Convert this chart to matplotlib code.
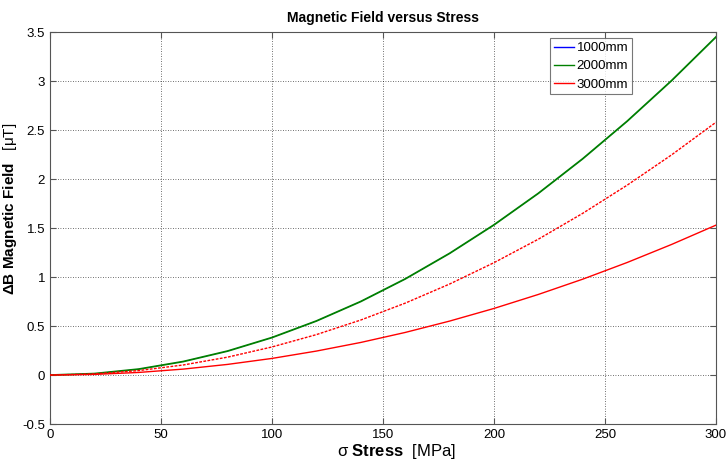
import matplotlib
matplotlib.use("Agg")
import matplotlib.pyplot as plt

plt.rcParams["font.family"] = ["Liberation Sans", "DejaVu Sans"]
plt.rcParams["mathtext.fontset"] = "custom"
plt.rcParams["mathtext.rm"] = "Liberation Sans"
plt.rcParams["mathtext.bf"] = "Liberation Sans:bold"
plt.rcParams["mathtext.it"] = "Liberation Sans:italic"

# stress values (MPa) and field change (uT)
stress = [0, 20, 40, 60, 80, 100, 120, 140, 160, 180, 200, 220, 240, 260, 280, 300]
field_2000 = [0, 0.015, 0.061, 0.138, 0.245, 0.383, 0.552, 0.751, 0.981, 1.242,
              1.533, 1.855, 2.208, 2.591, 3.005, 3.45]
field_1000 = list(field_2000)  # hidden under the green curve
field_3000_dash = [0, 0.012, 0.046, 0.103, 0.183, 0.287, 0.413, 0.562, 0.734, 0.929,
                   1.147, 1.387, 1.651, 1.938, 2.247, 2.58]
field_3000 = [0, 0.007, 0.027, 0.061, 0.109, 0.170, 0.245, 0.333, 0.435, 0.551,
              0.680, 0.823, 0.979, 1.149, 1.333, 1.53]

labels = ["1000mm", "2000mm", "3000mm"]

fig = plt.figure(figsize=(7.28, 4.65), dpi=100, facecolor="white")
ax = fig.add_axes([0.0687, 0.088, 0.9148, 0.843])

ax.plot(stress, field_1000, color="#0000ff", linewidth=0.4, label=labels[0], zorder=2)
ax.plot(stress, field_2000, color="#008000", linewidth=1.3, label=labels[1], zorder=3)
ax.plot(stress, field_3000, color="#ff0000", linewidth=1.0, label=labels[2], zorder=3)
ax.plot(stress, field_3000_dash, color="#ff0000", linewidth=1.0, linestyle=(0, (2, 1)), zorder=3)

ax.set_xlim(0, 300)
ax.set_ylim(-0.5, 3.5)
ax.set_xticks(range(0, 301, 50))
ax.set_yticks([-0.5, 0, 0.5, 1, 1.5, 2, 2.5, 3, 3.5])
ax.set_yticklabels(["-0.5", "0", "0.5", "1", "1.5", "2", "2.5", "3", "3.5"])
ax.tick_params(direction="in", length=4, labelsize=9.5, color="#555555", top=True, right=True)
ax.grid(True, color="black", linestyle=(0, (1, 2)), linewidth=0.6, alpha=0.75)
for s in ax.spines.values():
    s.set_color("#555555")

ax.set_title("Magnetic Field versus Stress", fontsize=10, fontweight="bold", pad=7)
ax.set_xlabel(r"$\mathrm{\sigma}$ $\mathbf{Stress}$  [MPa]", fontsize=12)
ax.set_ylabel(r"$\mathbf{\Delta B\ Magnetic\ Field}$   [$\mathrm{\mu}$T]", fontsize=11)
ax.xaxis.set_label_coords(0.521, -0.045)
ax.yaxis.set_label_coords(-0.046, 0.55)

leg = ax.legend(loc="upper right", bbox_to_anchor=(0.874, 0.985), fontsize=9.5,
                frameon=True, fancybox=False, handlelength=1.5, borderpad=0.3,
                labelspacing=0.45, handletextpad=0.2, borderaxespad=0)
leg.get_frame().set_edgecolor("#555555")
leg.get_frame().set_linewidth(0.8)
for h in leg.legend_handles:
    h.set_linewidth(1.0)

fig.savefig("out.png", dpi=100, facecolor="white")
